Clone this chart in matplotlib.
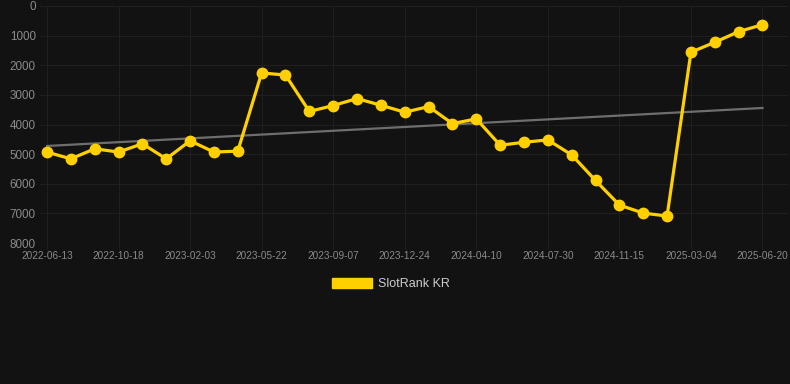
import numpy as np
import matplotlib.pyplot as plt

# rank values (lower number = better rank)
dates = ["2022-06-13", "", "", "2022-10-18", "", "", "2023-02-03", "", "",
         "2023-05-22", "", "", "2023-09-07", "", "", "2023-12-24", "", "",
         "2024-04-10", "", "", "2024-07-30", "", "", "2024-11-15", "", "",
         "2025-03-04", "", "", "2025-06-20"]
rank = [4930, 5160, 4820, 4930, 4650, 5160, 4550, 4930, 4900,
        2260, 2330, 3560, 3360, 3125, 3350, 3585, 3395, 3970, 3810,
        4700, 4600, 4520, 5025, 5890, 6720, 6990, 7090,
        1560, 1225, 865, 630]
yticks = [0, 1000, 2000, 3000, 4000, 5000, 6000, 7000, 8000]

bg = "#121212"
grid_c = "#1f1f1f"
label_c = "#8a8a8a"
yellow = "#FFD000"

plt.rcParams['font.family'] = ['Liberation Sans', 'DejaVu Sans']

fig = plt.figure(figsize=(7.9, 3.84), dpi=100, facecolor=bg)
ax = fig.add_axes([40 / 790, 1 - 243 / 384, 748 / 790, 237 / 384])
ax.set_facecolor(bg)

x = np.arange(len(rank))

# trend line (linear fit)
k, b = np.polyfit(x, rank, 1)
ax.plot(x, k * x + b, color="#6e6e6e", lw=1.6, zorder=2)

ax.plot(x, rank, color=yellow, lw=2.3, marker="o", markersize=7.5,
        zorder=3, label="SlotRank KR")

ax.set_xlim(-0.293, 31.07)
ax.set_ylim(8000, 0)
ax.set_yticks(yticks)
ax.set_yticklabels([str(v) for v in yticks])

tick_pos = [i for i, d in enumerate(dates) if d]
ax.set_xticks(tick_pos)
ax.set_xticklabels([dates[i] for i in tick_pos])

ax.grid(True, color=grid_c, lw=0.8)
ax.set_axisbelow(True)
for s in ax.spines.values():
    s.set_visible(False)

ax.tick_params(axis="y", length=0, pad=3, labelcolor=label_c, labelsize=8.4)
ax.tick_params(axis="x", length=4, color=grid_c, pad=2, labelcolor=label_c,
               labelsize=7.2)

leg = fig.legend(handles=[plt.Rectangle((0, 0), 1, 1, color=yellow)],
                 labels=["SlotRank KR"], loc="center",
                 bbox_to_anchor=(0.495, 1 - 284 / 384), frameon=False,
                 handlelength=3.2, handleheight=0.9, handletextpad=0.45,
                 fontsize=9)
for t in leg.get_texts():
    t.set_color("#cccccc")

fig.savefig("out.png", dpi=100, facecolor=bg)
